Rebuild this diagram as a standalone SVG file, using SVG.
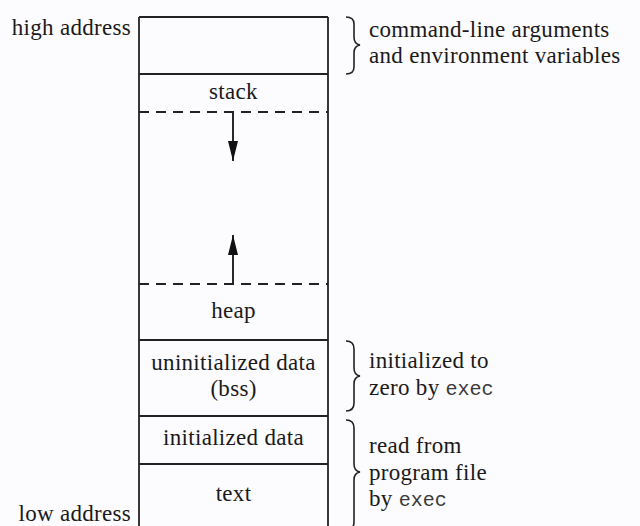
<svg xmlns="http://www.w3.org/2000/svg" width="640" height="526" viewBox="0 0 640 526">
  <style>
    .t { font-family: "Liberation Serif", "Times New Roman", serif; font-size: 23px; letter-spacing: 0.3px; fill: #1a1a1a; }
    .m { font-family: "Liberation Mono", "Courier New", monospace; font-size: 20px; letter-spacing: 0; fill: #3a3a3a; }
    .c { text-anchor: middle; }
    .e { text-anchor: end; }
    .box { fill: none; stroke: #222; stroke-width: 1.8; }
    .dash { fill: none; stroke: #222; stroke-width: 1.8; stroke-dasharray: 10 7; }
    .brace { fill: none; stroke: #222; stroke-width: 1.6; }
    .arrow { fill: none; stroke: #111; stroke-width: 1.8; }
  </style>
  <defs>
    <marker id="ah" markerUnits="userSpaceOnUse" markerWidth="20" markerHeight="10" refX="20" refY="5" orient="auto">
      <path d="M0,0 L20,5 L0,10 z" fill="#111"/>
    </marker>
  </defs>
  <rect x="0" y="0" width="640" height="526" fill="#fcfbfd"/>

  <g id="frame">
    <line class="box" x1="139" y1="17" x2="139" y2="530"/>
    <line class="box" x1="328" y1="17" x2="328" y2="530"/>
  </g>

  <g id="args">
    <line class="box" x1="139" y1="17" x2="328" y2="17"/>
    <line class="box" x1="139" y1="74" x2="328" y2="74"/>
  </g>

  <g id="stack">
    <text class="t c" x="233.5" y="99">stack</text>
    <line class="dash" x1="139" y1="112" x2="328" y2="112"/>
  </g>

  <g id="heap">
    <line class="dash" x1="139" y1="284" x2="328" y2="284"/>
    <text class="t c" x="233.5" y="318">heap</text>
  </g>

  <g id="bss">
    <line class="box" x1="139" y1="340" x2="328" y2="340"/>
    <text class="t c" x="233.5" y="370">uninitialized data</text>
    <text class="t c" x="233.5" y="396">(bss)</text>
  </g>

  <g id="data">
    <line class="box" x1="139" y1="416" x2="328" y2="416"/>
    <text class="t c" x="233.5" y="445">initialized data</text>
  </g>

  <g id="text-seg">
    <line class="box" x1="139" y1="464" x2="328" y2="464"/>
    <text class="t c" x="233.5" y="501">text</text>
  </g>

  <g id="addresses">
    <text class="t e" x="131" y="35">high address</text>
    <text class="t e" x="131" y="521">low address</text>
  </g>

  <g id="connectors">
    <line class="arrow" x1="233" y1="113" x2="233" y2="161" marker-end="url(#ah)"/>
    <line class="arrow" x1="233" y1="283" x2="233" y2="235" marker-end="url(#ah)"/>
  </g>

  <g id="note-args">
    <path class="brace" d="M346,17 Q354,17 354,24 L354,37 Q354,44 360,45 Q354,46 354,53 L354,67 Q354,74 346,74"/>
    <text class="t" x="369" y="37">command-line arguments</text>
    <text class="t" x="369" y="63">and environment variables</text>
  </g>

  <g id="note-bss">
    <path class="brace" d="M346,341 Q354,341 354,349 L354,368 Q354,375 360,376 Q354,377 354,384 L354,403 Q354,411 346,411"/>
    <text class="t" x="369" y="368">initialized to</text>
    <text class="t" x="369" y="395">zero by <tspan class="m">exec</tspan></text>
  </g>

  <g id="note-file">
    <path class="brace" d="M346,420 Q354,420 354,428 L354,464 Q354,471 360,472 Q354,473 354,480 L354,522 Q354,530 346,530"/>
    <text class="t" x="369" y="453">read from</text>
    <text class="t" x="369" y="480">program file</text>
    <text class="t" x="369" y="506">by <tspan class="m">exec</tspan></text>
  </g>
</svg>
